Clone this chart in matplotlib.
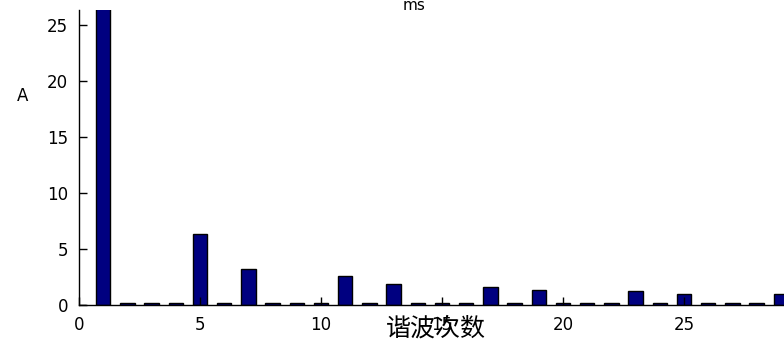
import matplotlib
matplotlib.use("Agg")
import matplotlib.pyplot as plt
import numpy as np

harmonics = list(range(0, 30))
amplitude = [0.0, 26.5, 0.15, 0.15, 0.15, 6.34, 0.15, 3.19, 0.15, 0.15,
             0.15, 2.59, 0.15, 1.85, 0.15, 0.15, 0.15, 1.61, 0.15, 1.34,
             0.15, 0.15, 0.15, 1.25, 0.15, 1.01, 0.15, 0.15, 0.15, 1.02]
xticks = [0, 5, 10, 15, 20, 25]
yticks = [0, 5, 10, 15, 20, 25]

plt.rcParams['font.family'] = ['DejaVu Sans']
fig = plt.figure(figsize=(7.84, 3.46), dpi=100)
ax = fig.add_axes([79/784, 41/346, (805-79)/784, 295/346])
ax.bar(harmonics, amplitude, width=0.6, color='#000080', edgecolor='black', linewidth=1.0)
ax.set_xlim(0, 30)
ax.set_ylim(0, 26.35)
ax.set_xticks(xticks)
ax.set_yticks(yticks)
ax.tick_params(direction='in', length=6, width=1, labelsize=12, pad=8, colors='black')
ax.spines['top'].set_visible(False)
ax.spines['right'].set_visible(False)
ax.spines['left'].set_linewidth(1)
ax.spines['bottom'].set_linewidth(1)
ax.set_ylabel('A', rotation=0, fontsize=12, labelpad=40, va='center')
ax.yaxis.set_label_coords(-0.078, 0.71)
fig.text(436/784, 1 - 316/346, '谐波次数', family=['Noto Sans CJK SC', 'DejaVu Sans'],
         fontsize=18, ha='center', va='top')
fig.text(414/784, 1 - 10.5/346, 'ms', fontsize=11, ha='center', va='baseline')
fig.savefig('out.png', dpi=100)
